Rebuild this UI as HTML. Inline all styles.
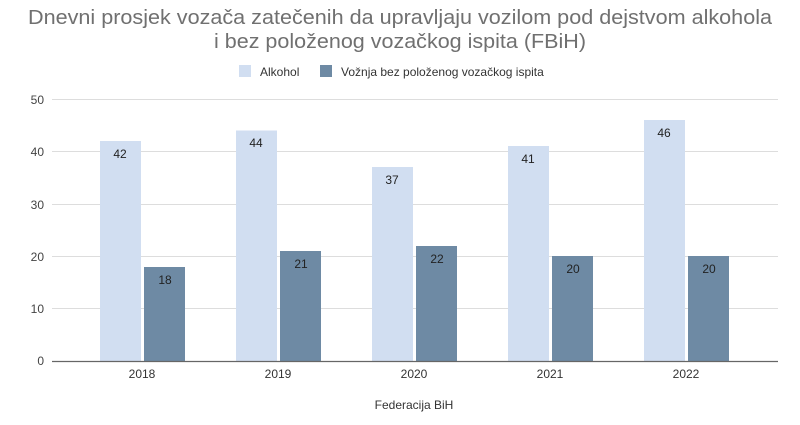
<!DOCTYPE html>
<html><head><meta charset="utf-8"><style>
body{margin:0;background:#fff;}
svg text{font-family:"Liberation Sans",Arial,sans-serif;}
</style></head><body>
<svg width="800" height="420" xmlns="http://www.w3.org/2000/svg">
<rect width="800" height="420" fill="#fff"/>
<text x="400" y="24" font-size="20.5" fill="#707070" text-anchor="middle" textLength="744" lengthAdjust="spacingAndGlyphs">Dnevni prosjek vozača zatečenih da upravljaju vozilom pod dejstvom alkohola</text>
<text x="400" y="48" font-size="20.5" fill="#707070" text-anchor="middle" textLength="372" lengthAdjust="spacingAndGlyphs">i bez položenog vozačkog ispita (FBiH)</text>
<rect x="239" y="65" width="12" height="12" fill="#d1def1"/>
<text x="260" y="76" font-size="12" fill="#333">Alkohol</text>
<rect x="320" y="65" width="12" height="12" fill="#6e8aa4"/>
<text x="341" y="76" font-size="12" fill="#333">Vožnja bez položenog vozačkog ispita</text>
<g stroke="#ddd" stroke-width="1">
<line x1="52" x2="778" y1="99.5" y2="99.5"/>
<line x1="52" x2="778" y1="151.5" y2="151.5"/>
<line x1="52" x2="778" y1="204.5" y2="204.5"/>
<line x1="52" x2="778" y1="256.5" y2="256.5"/>
<line x1="52" x2="778" y1="308.5" y2="308.5"/>
</g>
<g font-size="12" fill="#444" text-anchor="end">
<text x="44" y="104">50</text><text x="44" y="156">40</text><text x="44" y="209">30</text>
<text x="44" y="261">20</text><text x="44" y="313">10</text><text x="44" y="365">0</text>
</g>
<g font-size="12" fill="#222" text-anchor="middle">
<rect x="100" y="141" width="41" height="220" fill="#d1def1"/><text x="120" y="158">42</text>
<rect x="144" y="267" width="41" height="94" fill="#6e8aa4"/><text x="165" y="284">18</text>
<rect x="236" y="130.5" width="41" height="230.5" fill="#d1def1"/><text x="256" y="147">44</text>
<rect x="280" y="251" width="41" height="110" fill="#6e8aa4"/><text x="301" y="268">21</text>
<rect x="372" y="167" width="41" height="194" fill="#d1def1"/><text x="392" y="184">37</text>
<rect x="416" y="246" width="41" height="115" fill="#6e8aa4"/><text x="437" y="263">22</text>
<rect x="508" y="146" width="41" height="215" fill="#d1def1"/><text x="528" y="163">41</text>
<rect x="552" y="256" width="41" height="105" fill="#6e8aa4"/><text x="573" y="273">20</text>
<rect x="644" y="120" width="41" height="241" fill="#d1def1"/><text x="664" y="137">46</text>
<rect x="688" y="256" width="41" height="105" fill="#6e8aa4"/><text x="709" y="273">20</text>
</g>
<line x1="52" x2="778" y1="361.5" y2="361.5" stroke="#666" stroke-width="1.2"/>
<g font-size="12" fill="#333" text-anchor="middle">
<text x="142" y="378">2018</text><text x="278" y="378">2019</text><text x="414" y="378">2020</text>
<text x="550" y="378">2021</text><text x="686" y="378">2022</text>
</g>
<text x="414" y="409" font-size="12" fill="#333" text-anchor="middle">Federacija BiH</text>
</svg>
</body></html>
